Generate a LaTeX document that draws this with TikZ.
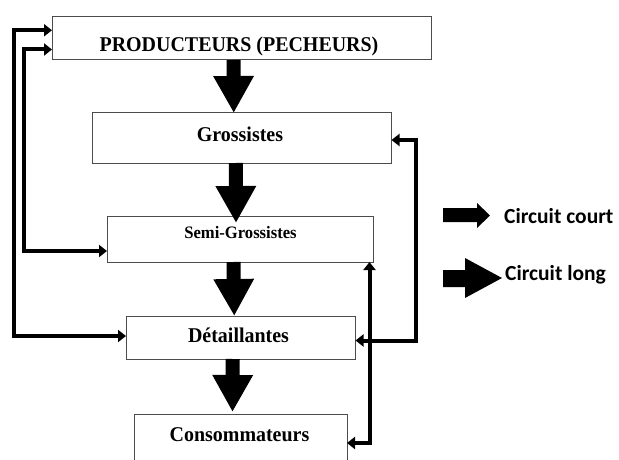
\documentclass[tikz,border=0pt]{standalone}
\usepackage{fontspec}
\setmainfont{Liberation Serif}
\newfontfamily\legfont{Carlito}
\usetikzlibrary{arrows.meta}
\newcommand{\cond}[1]{\scalebox{0.95}[1]{#1}}
\tikzset{
  box/.style={draw=black!70, line width=1pt, rectangle, inner sep=0pt, outer sep=0pt},
  lbl/.style={inner sep=0pt, anchor=base, font=\bfseries\fontsize{21}{25}\selectfont},
  blk/.style={line width=14pt, -{Triangle[length=37pt,width=38pt]}},
  conn/.style={line width=4pt, miter limit=10, {Triangle[length=8pt,width=12pt]}-{Triangle[length=8pt,width=12pt]}},
  legtxt/.style={inner sep=0pt, anchor=base west, font=\legfont\bfseries\fontsize{21.5}{25}\selectfont},
}
\begin{document}
\begin{tikzpicture}[x=1pt,y=-1pt]
\clip (0,0) rectangle (619,460);
\fill[white] (0,0) rectangle (619,460);
% boxes
\node[box, minimum width=379pt, minimum height=43.5pt] (b1) at (241.5,38.25) {};
\node[box, minimum width=299.5pt, minimum height=50pt] (b2) at (241.75,138) {};
\node[box, minimum width=266pt, minimum height=46pt] (b3) at (240,239) {};
\node[box, minimum width=229.5pt, minimum height=43pt] (b4) at (240.75,337.5) {};
\node[box, minimum width=213pt, minimum height=58pt] (b5) at (240.5,443) {};
% texts
\node[lbl] (t1) at (239,52) {\cond{PRODUCTEURS (PECHEURS)}};
\node[lbl] (t2) at (240,141.5) {\cond{Grossistes}};
\node[lbl, font=\bfseries\fontsize{17.5}{20}\selectfont] (t3) at (240.5,238.5) {\cond{Semi-Grossistes}};
\node[lbl] (t4) at (238.5,342) {\cond{Détaillantes}};
\node[lbl] (t5) at (239.5,441.5) {\cond{Consommateurs}};
% block arrows
\draw[blk] ([xshift=-8pt]b1.south) -- ([xshift=-8pt]b2.north);
\draw[blk] ([xshift=-6pt]b2.south) -- ([xshift=-4pt,yshift=-7pt]b3.north);
\draw[blk] ([xshift=-6.5pt]b3.south) -- ([xshift=-6.5pt]b4.north);
\draw[blk] ([xshift=-8pt]b4.south) -- ([xshift=-8pt,yshift=2pt]b5.north);
% connectors left
\draw[conn] ([yshift=8pt]b1.west) -- ++(-38,0) |- ([yshift=1.5pt]b4.west);
\draw[conn] ([yshift=-11.25pt]b1.west) -- ++(-28,0) |- ([yshift=-12pt]b3.west);
% connectors right
\draw[conn] ([yshift=-2pt]b2.east) -- ++(24,0) |- ([yshift=-3pt]b4.east);
\draw[conn] ([xshift=-3.5pt]b3.south east) |- (b5.east);
% legend
\fill[black] (443,208) -- (477,208) -- (477,203) -- (490,215.5) -- (477,228) -- (477,222) -- (443,222) -- cycle;
\fill[black] (443,270) -- (465,270) -- (465,258) -- (502,278) -- (465,298) -- (465,287) -- (443,287) -- cycle;
\node[legtxt] (lc) at (504,223) {Circuit court};
\node[legtxt] (ll) at (505,280) {Circuit long};
\end{tikzpicture}
\end{document}
